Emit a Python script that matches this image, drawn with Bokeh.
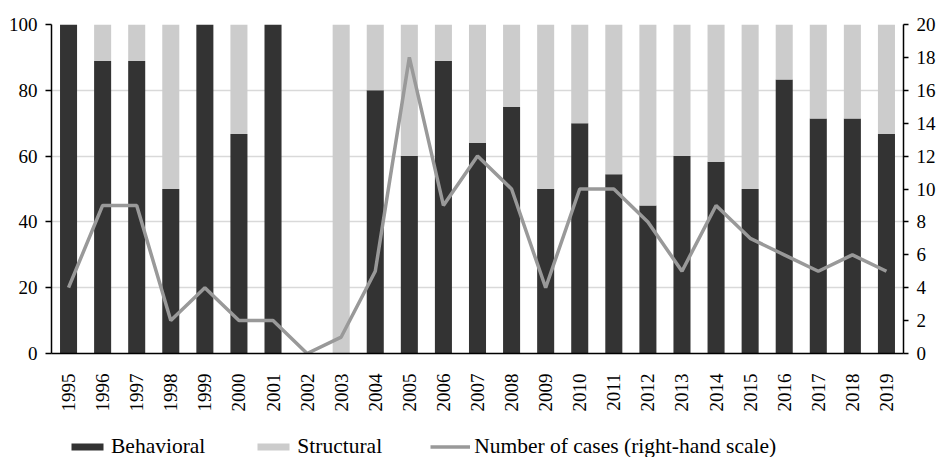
import math
from bokeh.plotting import figure
from bokeh.layouts import column
from bokeh.models import ColumnDataSource, LinearAxis, Range1d, FactorRange, Legend, LegendItem, FixedTicker
from bokeh.embed import file_html
from bokeh.resources import INLINE

years = [str(y) for y in range(1995, 2020)]
behavioral = [100, 88.9, 88.9, 50, 100, 66.7, 100, 0, 0, 80, 60, 88.9, 64, 75, 50,
              70, 54.5, 45, 60, 58.3, 50, 83.3, 71.4, 71.4, 66.7]
structural = [0, 11.1, 11.1, 50, 0, 33.3, 0, 0, 100, 20, 40, 11.1, 36, 25, 50,
              30, 45.5, 55, 40, 41.7, 50, 16.7, 28.6, 28.6, 33.3]
cases = [4, 9, 9, 2, 4, 2, 2, 0, 1, 5, 18, 9, 12, 10, 4, 10, 10, 8, 5, 9, 7, 6, 5, 6, 5]
series_names = ["Behavioral", "Structural", "Number of cases (right-hand scale)"]

FONT = "Liberation Serif"
FS = "19px"
LFS = "21.5px"
DARK, LIGHT, LINE = "#333333", "#cccccc", "#999999"

src = ColumnDataSource(dict(years=years, behavioral=behavioral, structural=structural, cases=cases))

p = figure(x_range=FactorRange(*years, range_padding=0), y_range=Range1d(0, 100),
           width=940, height=414, output_backend="svg", toolbar_location=None,
           min_border_left=51, min_border_right=37, min_border_top=24, min_border_bottom=60)
p.outline_line_color = None
p.extra_y_ranges = {"cases": Range1d(0, 20)}

bars = p.vbar_stack(["behavioral", "structural"], x="years", width=0.5, source=src,
                    color=[DARK, LIGHT], line_color=None)
ln = p.line(x="years", y="cases", source=src, y_range_name="cases",
            line_color=LINE, line_width=3.5)

p.xgrid.grid_line_color = None
p.ygrid.grid_line_color = "#d9d9d9"
p.ygrid.grid_line_width = 1.5
p.yaxis.ticker = FixedTicker(ticks=[0, 20, 40, 60, 80, 100])

for ax in (p.xaxis[0], p.yaxis[0]):
    ax.axis_line_color = "black"
    ax.axis_line_width = 1.5
    ax.major_label_text_font = FONT
    ax.major_label_text_font_size = FS
    ax.major_label_text_color = "black"
    ax.minor_tick_line_color = None

p.xaxis.major_tick_line_color = None
p.xaxis.major_label_orientation = math.pi / 2
p.xaxis.major_label_standoff = 14
p.yaxis.major_tick_in = 0
p.yaxis.major_tick_out = 6
p.yaxis.major_tick_line_width = 1.5
p.yaxis.major_label_standoff = 8

ra = LinearAxis(y_range_name="cases", ticker=FixedTicker(ticks=list(range(0, 21, 2))))
ra.axis_line_color = "black"
ra.axis_line_width = 1.5
ra.major_tick_in = 0
ra.major_tick_out = 5
ra.major_tick_line_width = 1.5
ra.minor_tick_line_color = None
ra.major_label_text_font = FONT
ra.major_label_text_font_size = FS
ra.major_label_text_color = "black"
ra.major_label_standoff = 8
p.add_layout(ra, "right")

# legend strip below the chart (its renderers draw nothing visible in the strip)
lg = figure(width=940, height=43, x_range=Range1d(0, 1), y_range=Range1d(0, 1),
            x_axis_type=None, y_axis_type=None, output_backend="svg", toolbar_location=None,
            min_border=0, min_border_left=0, min_border_right=0, min_border_top=0, min_border_bottom=0)
lg.outline_line_color = None
lg.xgrid.grid_line_color = None
lg.ygrid.grid_line_color = None
dummy = ColumnDataSource(dict(x=[0.4, 0.6], top=[0, 0], y=[-5, -5]))
r1 = lg.vbar(x="x", top="top", width=0.1, source=dummy, color=DARK, line_color=None)
r2 = lg.vbar(x="x", top="top", width=0.1, source=dummy, color=LIGHT, line_color=None)
r3 = lg.line(x="x", y="y", source=dummy, line_color=LINE, line_width=3.5)

legend = Legend(items=[LegendItem(label=series_names[0], renderers=[r1]),
                       LegendItem(label=series_names[1], renderers=[r2]),
                       LegendItem(label=series_names[2], renderers=[r3])],
                location=(16, -2), orientation="horizontal",
                label_text_font=FONT, label_text_font_size=LFS, label_text_color="black",
                glyph_width=40, glyph_height=9, label_standoff=4, spacing=48,
                padding=0, margin=0, border_line_color=None, background_fill_alpha=0)
lg.add_layout(legend, "center")

layout = column(p, lg, spacing=0)
open("out.html", "w").write(file_html(layout, INLINE))
